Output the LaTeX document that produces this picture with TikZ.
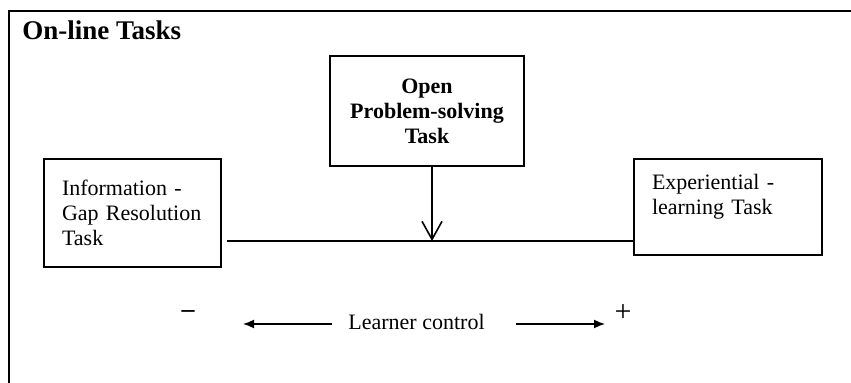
\documentclass[tikz,border=0pt]{standalone}
\usepackage{fontspec}
\setmainfont{Liberation Serif}
\usetikzlibrary{arrows.meta}

\begin{document}
\begin{tikzpicture}[x=0.5pt, y=-0.5pt, >={Latex[length=5.5pt,width=4.5pt]},
  task/.style={draw, line width=0.9pt, inner ysep=0pt, inner xsep=9pt, font=\fontsize{11}{12.5}\selectfont},
  sign/.style={inner sep=0pt, font=\fontsize{15}{15}\selectfont}]
\useasboundingbox (0,0) rectangle (851,383);
\draw[line width=0.7pt] (9,383) -- (9,11) -- (851,11);
\node[anchor=base west, inner sep=0pt, font=\bfseries\fontsize{13.5}{16}\selectfont] (title) at (22,40) {On-line Tasks};

\node[task, minimum width=97pt, minimum height=55pt, align=center, font=\bfseries\fontsize{11}{12.5}\selectfont] (open) at (427,111) {Open\\Problem-solving\\Task};
\node[task, minimum width=88.5pt, minimum height=54pt, text width=70.5pt, align=left] (info) at (132.5,213) {Information -\\Gap Resolution\\Task};
\node[task, minimum width=94pt, minimum height=48pt, text width=76pt, align=left] (exp) at (728,207) {Experiential -\\learning Task\\\mbox{}};

\coordinate (lineL) at (227,241);
\coordinate (drop) at (432,241);
\draw[line width=0.9pt] (lineL) -- (lineL -| exp.west);
\draw[line width=0.8pt, -{Straight Barb[length=9pt,width=10pt]}] (open.south -| drop) -- (drop);

\node[inner sep=0pt, font=\fontsize{11}{12.5}\selectfont] (lc) at (416.5,322) {Learner control};
\node[sign, font=\bfseries\fontsize{13}{13}\selectfont] (minus) at (188,314) {--};
\node[sign] (plus) at (623,313) {+};
\coordinate (lcL) at (332,324);
\coordinate (lcR) at (516,324);
\coordinate (lo) at (243,324);
\coordinate (hi) at (605,324);
\draw[->, line width=0.8pt] (lcL) -- (lo);
\draw[->, line width=0.8pt] (lcR) -- (hi);
    %
\end{tikzpicture}
\end{document}
